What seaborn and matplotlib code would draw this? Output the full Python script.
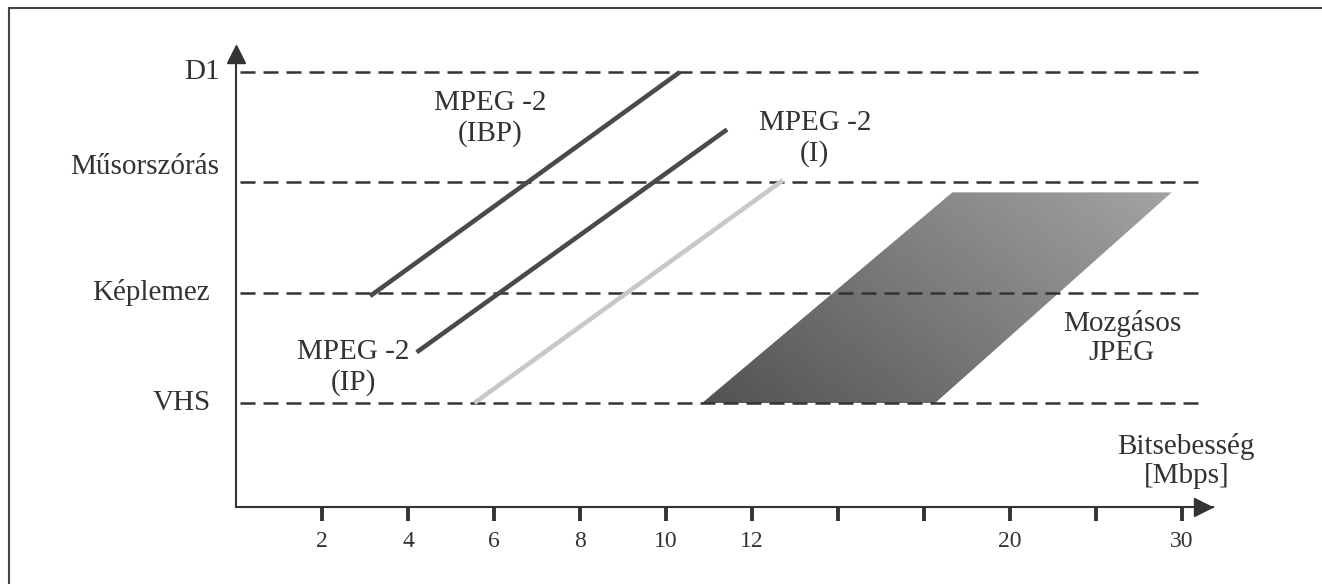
import numpy as np
import pandas as pd
import seaborn as sns
import matplotlib.pyplot as plt
from matplotlib.patches import Polygon
from matplotlib.lines import Line2D

# minőségi szintek (y tengely)
levels = ["VHS", "Képlemez", "Műsorszórás", "D1"]
level_pos = [1, 2, 3, 4]

# bitsebesség tengely (egyenközű osztás)
tick_pos = [1, 2, 3, 4, 5, 6, 7, 8, 9, 10, 11]
tick_labels = ["2", "4", "6", "8", "10", "12", "", "", "20", "", "30"]

# MPEG-2 szakaszok
ibp_x = [1.56, 5.16]
ibp_y = [1.97, 4.0]
ip_x = [2.10, 5.71]
ip_y = [1.46, 3.48]
i_x = [2.77, 6.36]
i_y = [1.0, 3.02]

# Mozgásos JPEG tartomány
jpeg_x = [5.42, 8.13, 10.88, 8.33]
jpeg_y = [1.0, 1.0, 2.91, 2.91]

df = pd.DataFrame({
    "x": ibp_x + ip_x + i_x,
    "y": ibp_y + ip_y + i_y,
    "kod": ["IBP"] * 2 + ["IP"] * 2 + ["I"] * 2,
})

sns.set_style("white")
plt.rcParams["font.family"] = ["Liberation Serif", "DejaVu Serif"]
ink = "#333333"

fig = plt.figure(figsize=(13.22, 5.84), dpi=100)
ax = fig.add_axes([236 / 1322, 77 / 584, 977 / 1322, 459 / 584])
ax.set_xlim(0, 11.36)
ax.set_ylim(0.057, 4.219)

# szaggatott szintvonalak
ax.hlines(level_pos, 0.05, 11.2, colors=ink, lw=1.8,
          linestyles=(0, (6, 3.2)), zorder=3)

# JPEG sokszög színátmenettel
poly = Polygon(np.column_stack([jpeg_x, jpeg_y]), closed=True,
               facecolor="none", edgecolor="none")
ax.add_patch(poly)
gx = np.linspace(min(jpeg_x), max(jpeg_x), 300)
gy = np.linspace(min(jpeg_y), max(jpeg_y), 150)
GX, GY = np.meshgrid(gx, gy)
Z = 82 + 0.11 * 86 * (GX - min(jpeg_x)) + 0.14 * 110.3 * (GY - min(jpeg_y))
img = ax.imshow(Z, extent=[min(jpeg_x), max(jpeg_x), min(jpeg_y), max(jpeg_y)],
                origin="lower", cmap="gray", vmin=0, vmax=255,
                aspect="auto", zorder=2)
img.set_clip_path(poly)

# MPEG-2 vonalak
sns.lineplot(data=df, x="x", y="y", hue="kod", estimator=None, sort=False,
             palette={"IBP": "#4a4a4a", "IP": "#4a4a4a", "I": "#c8c8c8"},
             lw=3.3, legend=False, ax=ax, zorder=4)
for line in ax.lines:
    line.set_solid_capstyle("butt")

# tengelyek
for s in ["top", "right"]:
    ax.spines[s].set_visible(False)
for s in ["left", "bottom"]:
    ax.spines[s].set_color(ink)
    ax.spines[s].set_linewidth(1.5)
ax.plot([0], [4.165], marker="^", ms=13.5, color=ink, clip_on=False, zorder=5)
ax.plot([11.24], [0.057], marker=">", ms=13.5, color=ink, clip_on=False, zorder=5)

ax.set_xticks(tick_pos, tick_labels)
ax.set_yticks([])
ax.tick_params(axis="x", bottom=True, direction="out", length=10, width=2.8,
               color=ink, pad=7, labelsize=17, labelcolor=ink)
ax.set_xlabel("")
ax.set_ylabel("")

# szintek feliratai
ax.text(-0.19, 4.0, levels[3], ha="right", va="center", fontsize=21, color=ink)
ax.text(-0.19, 3.14, levels[2], ha="right", va="center", fontsize=21, color=ink)
ax.text(-0.30, 2.0, levels[1], ha="right", va="center", fontsize=21, color=ink)
ax.text(-0.29, 1.0, levels[0], ha="right", va="center", fontsize=21, color=ink)

# feliratok
kw = dict(ha="center", va="center", fontsize=21, color=ink, linespacing=1.18)
ax.text(2.95, 3.58, "MPEG -2\n(IBP)", **kw)
ax.text(6.73, 3.40, "MPEG -2\n(I)", **kw)
ax.text(1.36, 1.32, "MPEG -2\n(IP)", **kw)
ax.text(10.30, 1.59, "Mozgásos\nJPEG", **kw)
ax.text(11.05, 0.474, "Bitsebesség\n[Mbps]", **kw)

# keret
fig.add_artist(Line2D([9 / 1322, 1], [1 - 8 / 584, 1 - 8 / 584],
                      color="#444444", lw=1.5))
fig.add_artist(Line2D([9 / 1322, 9 / 1322], [0, 1 - 8 / 584],
                      color="#444444", lw=1.5))

plt.savefig("out.png", dpi=100)
plt.close()
